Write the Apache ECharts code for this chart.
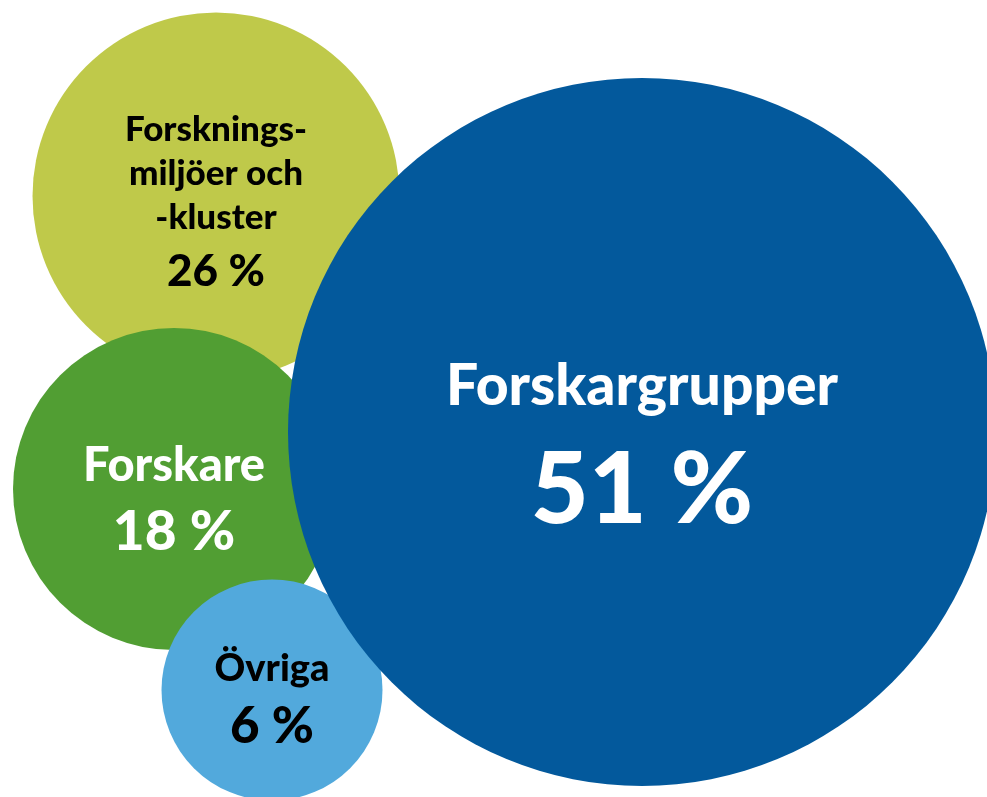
<!DOCTYPE html>
<html>
<head>
<meta charset="utf-8">
<script src="https://cdn.jsdelivr.net/npm/echarts@6/dist/echarts.min.js"></script>
<style>
html, body { margin: 0; padding: 0; background: #fff; }
#chart { width: 987px; height: 797px; }
</style>
</head>
<body>
<div id="chart"></div>
<script>
// data (drawing order: the big blue bubble last, so it sits on top)
var categories = ['Forsknings-\nmiljöer och\n-kluster', 'Forskare', 'Övriga', 'Forskargrupper'];
var shares = [26, 18, 6, 51];

// layout, in axis units (axes run 0..987 and 0..797)
var centers = [[216, 196], [174, 489], [272, 690], [642, 432]];
var diameters = [367, 322, 221, 708];
var colors = ['#BFC94A', '#519E33', '#52A9DC', '#03599C'];
var textColors = ['#000', '#fff', '#000', '#fff'];
var nameSizes = [35, 47, 38, 57];
var pctSizes = [44, 55, 51, 100];
var nameLines = [44, 58, 50, 68];
var pctLines = [64, 74, 66, 140];
var offsets = [[0, 10], [0, 14], [0, 12], [0, 25]];

var myChart = echarts.init(document.getElementById('chart'));

var seriesData = categories.map(function (name, i) {
    return {
        name: name,
        value: [centers[i][0], centers[i][1], shares[i]],
        symbolSize: diameters[i],
        itemStyle: { color: colors[i], opacity: 1 },
        label: {
            show: true,
            position: 'inside',
            offset: offsets[i],
            align: 'center',
            formatter: function (p) {
                var lines = p.name.split('\n').map(function (l) { return '{n|' + l + '}'; });
                return lines.join('\n') + '\n{p|' + p.value[2] + ' %}';
            },
            rich: {
                n: {
                    fontFamily: 'Lato',
                    fontWeight: 900,
                    fontSize: nameSizes[i],
                    lineHeight: nameLines[i],
                    color: textColors[i],
                    align: 'center'
                },
                p: {
                    fontFamily: 'Lato',
                    fontWeight: 900,
                    fontSize: pctSizes[i],
                    lineHeight: pctLines[i],
                    color: textColors[i],
                    align: 'center'
                }
            }
        }
    };
});

var option = {
    animation: false,
    backgroundColor: '#fff',
    grid: { left: 0, right: 0, top: 0, bottom: 0 },
    xAxis: { type: 'value', min: 0, max: 987, show: false },
    yAxis: { type: 'value', min: 0, max: 797, inverse: true, show: false },
    series: [{
        type: 'scatter',
        data: seriesData,
        emphasis: { disabled: true }
    }]
};

myChart.setOption(option);
</script>
</body>
</html>
